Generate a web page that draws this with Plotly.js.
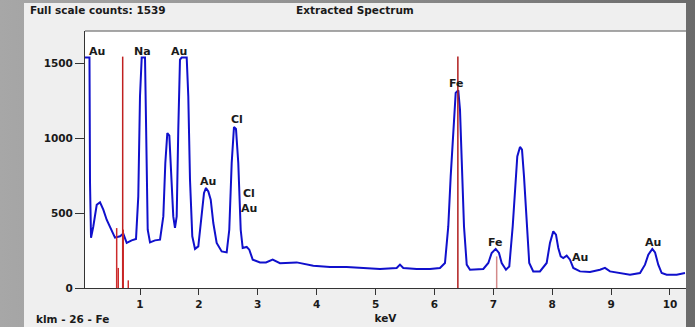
<!DOCTYPE html>
<html>
<head>
<meta charset="utf-8">
<script src="https://cdn.plot.ly/plotly-3.0.1.min.js"></script>
<style>
  html, body { margin: 0; padding: 0; width: 695px; height: 327px; overflow: hidden; }
  body { background: linear-gradient(to right, #a7a7a7 0%, #8f8f8f 50%, #6a6a6a 100%); position: relative; }
  #chart { position: absolute; left: 24px; top: 3px; width: 662px; height: 324px; }
</style>
</head>
<body>
<div id="chart"></div>
<script>
// ---- data ----
const spectrumKeV = [
  0.066, 0.142, 0.151, 0.168, 0.207, 0.265, 0.321, 0.377, 0.434, 0.491,
  0.575, 0.660, 0.716, 0.774, 0.859, 0.932, 0.971, 1.000, 1.029, 1.085,
  1.102, 1.131, 1.170, 1.255, 1.340, 1.396, 1.430, 1.464, 1.498, 1.526,
  1.565, 1.594, 1.623, 1.650, 1.679, 1.708, 1.793, 1.820, 1.849, 1.888,
  1.934, 1.990, 2.048, 2.087, 2.121, 2.160, 2.201, 2.245, 2.302, 2.387,
  2.472, 2.516, 2.557, 2.596, 2.630, 2.669, 2.710, 2.744, 2.812, 2.856,
  2.914, 3.038, 3.139, 3.253, 3.377, 3.661, 3.943, 4.226, 4.510, 4.792,
  5.075, 5.359, 5.415, 5.471, 5.698, 5.924, 6.094, 6.179, 6.235, 6.276,
  6.320, 6.361, 6.405, 6.434, 6.463, 6.502, 6.548, 6.604, 6.830, 6.915,
  6.972, 7.040, 7.096, 7.142, 7.215, 7.271, 7.329, 7.368, 7.407, 7.453,
  7.487, 7.521, 7.566, 7.610, 7.678, 7.792, 7.906, 7.962, 8.018, 8.064,
  8.103, 8.144, 8.188, 8.246, 8.302, 8.358, 8.472, 8.642, 8.811, 8.896,
  8.981, 9.151, 9.321, 9.491, 9.576, 9.632, 9.700, 9.746, 9.801, 9.859,
  9.944, 10.114, 10.255
];
const spectrumCounts = [
  1539, 1539, 703, 336, 411, 556, 572, 523, 456, 403,
  336, 345, 363, 301, 318, 327, 612, 1280, 1539, 1539,
  1057, 389, 305, 318, 323, 478, 835, 1035, 1017, 790,
  478, 401, 478, 1057, 1525, 1539, 1539, 1280, 723, 345,
  261, 278, 478, 635, 668, 645, 590, 434, 301, 244,
  238, 389, 835, 1075, 1062, 835, 389, 267, 274, 256,
  189, 171, 171, 189, 166, 171, 149, 140, 140, 134,
  127, 134, 156, 134, 127, 127, 134, 167, 411, 745,
  1079, 1303, 1320, 1191, 857, 411, 156, 122, 127, 167,
  234, 261, 234, 167, 122, 144, 411, 679, 879, 942,
  924, 745, 411, 167, 111, 111, 167, 301, 378, 356,
  267, 211, 200, 216, 189, 134, 111, 107, 122, 134,
  111, 100, 89, 100, 156, 222, 261, 238, 156, 100,
  89, 89, 100
];

// Fe line markers (keV, height in counts)
const markerNames   = ["Fe Ll", "Fe Ln", "Fe La", "Fe Lb1", "Fe Lb3", "Fe Ka", "Fe Kb"];
const markerKeV     = [0.604, 0.631, 0.706, 0.716, 0.801, 6.398, 7.057];
const markerCounts  = [400, 134, 1545, 390, 51, 1545, 211];

// Element labels on the peaks
const peakLabels    = ["Au", "Na", "Au", "Au", "Cl", "Cl", "Au", "Fe", "Fe", "Au", "Au"];
const peakLabelKeV  = [0.265, 1.034, 1.657, 2.155, 2.647, 2.851, 2.846, 6.383, 7.040, 8.480, 9.711];
const peakLabelCnt  = [1580, 1580, 1580, 712, 1124, 628, 534, 1365, 307, 204, 307];

const xTicks = [1, 2, 3, 4, 5, 6, 7, 8, 9, 10];
const yTicks = [0, 500, 1000, 1500];

const headerLeft  = "Full scale counts: 1539";
const headerTitle = "Extracted Spectrum";
const footerLeft  = "klm - 26 - Fe";
const xTitle      = "keV";

// ---- styles ----
const FONT = "DejaVu Sans, Verdana, sans-serif";
const markerColors = ["#cc2b2b", "#cc2b2b", "#c02020", "#cc2b2b", "#cc2b2b", "#b01e1e", "#d38a8a"];

const traces = [{
  type: "scatter", mode: "lines",
  x: spectrumKeV, y: spectrumCounts,
  line: { color: "#1010cc", width: 2 },
  hoverinfo: "skip", showlegend: false
}];
markerKeV.forEach((k, i) => {
  traces.push({
    type: "scatter", mode: "lines",
    x: [k, k], y: [0, markerCounts[i]],
    name: markerNames[i],
    line: { color: markerColors[i], width: 1.5 },
    hoverinfo: "skip", showlegend: false
  });
});

const bold = (size) => ({ family: FONT, size: size, color: "#1a1a1a", weight: "bold" });

const annotations = peakLabels.map((t, i) => ({
  text: t, x: peakLabelKeV[i], y: peakLabelCnt[i], xref: "x", yref: "y",
  showarrow: false, xanchor: "center", yanchor: "middle", font: bold(11)
}));
annotations.push(
  { text: headerLeft, xref: "paper", yref: "paper", x: -0.0948, y: 1.0798, xanchor: "left", yanchor: "middle", showarrow: false, font: bold(10.5) },
  { text: headerTitle, xref: "paper", yref: "paper", x: 0.450, y: 1.0798, xanchor: "center", yanchor: "middle", showarrow: false, font: bold(10.5) },
  { text: footerLeft, xref: "paper", yref: "paper", x: -0.0849, y: -0.1206, xanchor: "left", yanchor: "middle", showarrow: false, font: bold(10.5) }
);

const layout = {
  width: 662, height: 324,
  margin: { l: 61, r: 0, t: 28, b: 39, pad: 0 },
  paper_bgcolor: "#efefef",
  plot_bgcolor: "#ffffff",
  showlegend: false,
  xaxis: {
    range: [0.066, 10.272], tickvals: xTicks, ticktext: xTicks.map(String),
    ticks: "outside", ticklen: 6, tickwidth: 1, tickcolor: "#333",
    showline: true, linecolor: "#333", linewidth: 1,
    showgrid: false, zeroline: false, tickfont: bold(10.5),
    title: { text: xTitle, font: bold(10.5), standoff: 6 }
  },
  yaxis: {
    range: [0, 1716], tickvals: yTicks, ticktext: yTicks.map(String),
    ticks: "outside", ticklen: 9, tickwidth: 1, tickcolor: "#333",
    showline: true, linecolor: "#333", linewidth: 1,
    showgrid: false, zeroline: false, tickfont: bold(10.5)
  },
  shapes: [
    { type: "line", xref: "paper", yref: "paper", x0: 0, x1: 1, y0: 1, y1: 1,
      line: { color: "#8a8a8a", width: 1.5 } }
  ],
  annotations: annotations
};

Plotly.newPlot("chart", traces, layout, { displayModeBar: false, staticPlot: true });
</script>
</body>
</html>
